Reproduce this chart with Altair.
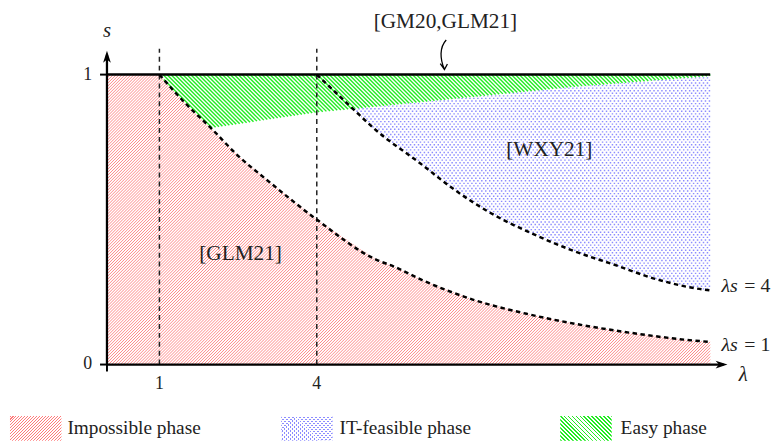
import math
import altair as alt
import pandas as pd

# ---------------- values ----------------
# lower boundary curve (label "λs = 1")
lam_low = [1.0, 1.5, 1.98, 2.5, 3.06, 4.0, 5.13, 5.47, 6.0, 6.96, 8.0, 9.0, 10.0, 11.0, 11.5]
s_low = [1.0, 0.90, 0.816, 0.72, 0.635, 0.50, 0.362, 0.338, 0.292, 0.225, 0.175, 0.138, 0.109, 0.086, 0.078]
# upper boundary curve (label "λs = 4")
lam_up = [4.0, 4.35, 4.70, 5.13, 5.95, 6.64, 7.33, 8.09, 8.91, 9.66, 10.48, 11.36, 11.5]
s_up = [1.0, 0.94, 0.88, 0.808, 0.697, 0.601, 0.521, 0.453, 0.391, 0.345, 0.294, 0.259, 0.256]
# lower edge of the easy region
lam_easy = [1.0, 1.5, 1.98, 4.0, 4.70, 8.9, 11.5]
s_easy = [1.0, 0.90, 0.816, 0.870, 0.882, 0.958, 0.995]

lam_start, lam_end = 0.0, 11.5
s_bottom, s_top = 0.0, 1.0
vlines = [1, 4]
x_ticks = [1, 4]
x_tick_labels = ["1", "4"]
y_ticks = [0, 1]
y_tick_labels = ["0", "1"]
legend_labels = ["Impossible phase", "IT-feasible phase", "Easy phase"]
region_labels = ["[GLM21]", "[WXY21]", "[GM20,GLM21]"]
curve_names = ["λs", "λs"]
curve_values = ["= 4", "= 1"]
axis_titles = ["s", "λ"]

# ---------------- layout / style ----------------
W_PLOT, H_PLOT = 627, 317
X_MAX, Y_MAX = 11.83, 1.082
PX = W_PLOT / X_MAX
PY = H_PLOT / Y_MAX
FONT = "Liberation Serif"
INK = "#222222"
RED, BLUE, GREEN = "#ff7a7a", "#8c8cff", "#22ec22"


def to_px(lam, s):
    return lam * PX, (Y_MAX - s) * PY


def to_data(X, Y):
    return X / PX, Y_MAX - Y / PY


def hatch(poly, kind, step, phase=0.0):
    """Cut a family of parallel lines (spaced `step` px) to a region polygon.
    Returns the pieces in data units so they are drawn through the scales."""
    P = [to_px(l, s) for l, s in poly]
    if kind == "ne":
        f = lambda X, Y: X + Y
    elif kind == "nw":
        f = lambda X, Y: X - Y
    else:
        f = lambda X, Y: Y
    vals = [f(X, Y) for X, Y in P]
    lo, hi = min(vals), max(vals)
    c = math.floor(lo / step) * step + phase
    rows = []
    k = 0
    n = len(P)
    while c <= hi:
        pts = []
        for i in range(n):
            (X0, Y0), (X1, Y1) = P[i], P[(i + 1) % n]
            f0, f1 = vals[i] - c, vals[(i + 1) % n] - c
            if (f0 < 0) != (f1 < 0):
                t = f0 / (f0 - f1)
                pts.append((X0 + t * (X1 - X0), Y0 + t * (Y1 - Y0)))
        pts.sort()
        for j in range(0, len(pts) - 1, 2):
            # draw right-to-left so dash patterns start on a common edge
            (xa, ya), (xb, yb) = pts[j + 1], pts[j]
            la, sa = to_data(xa, ya)
            lb, sb = to_data(xb, yb)
            rows.append({"l1": la, "s1": sa, "l2": lb, "s2": sb, "row": k % 2})
        c += step
        k += 1
    return pd.DataFrame(rows)


def stripes(on, off, w, h, hperiod, duty, direction):
    """Hard-stop gradient hatch, used only for the small legend swatches."""
    k = (w + h) / (w * w + h * h)
    step = hperiod / (w + h)
    stops = []
    i = 0
    while i * step < 1.0:
        a = i * step
        b = min(a + duty * step, 1.0)
        c = min(a + step, 1.0)
        for o, col in ((a, on), (b, on), (b, off), (c, off)):
            stops.append(alt.GradientStop(offset=round(o, 7), color=col))
        i += 1
    if direction == "ne":
        x1, y1, x2, y2 = 0, 0, k * w, k * h
    else:
        x1, y1, x2, y2 = 0, 1, k * w, 1 - k * h
    return alt.LinearGradient(gradient="linear", stops=stops,
                              x1=x1, y1=y1, x2=round(x2, 7), y2=round(y2, 7))


xs = alt.Scale(domain=[0, X_MAX], nice=False, zero=False)
ys = alt.Scale(domain=[0, Y_MAX], nice=False, zero=False)
bx = alt.X("lam:Q", scale=xs, axis=None)
by = alt.Y("s:Q", scale=ys, axis=None)
one = pd.DataFrame({"k": [0]})


def seg_enc():
    return dict(x=alt.X("l1:Q", scale=xs, axis=None), x2="l2:Q",
                y=alt.Y("s1:Q", scale=ys, axis=None), y2="s2:Q")


# ---------------- regions ----------------
red_poly = ([(lam_start, s_bottom), (lam_start, s_top)]
            + list(zip(lam_low, s_low)) + [(lam_end, s_bottom)])
blue_poly = list(zip(lam_up, s_up)) + [(lam_end, s_top)]
green_poly = list(zip(lam_easy, s_easy)) + [(lam_end, s_top)]

red = alt.Chart(hatch(red_poly, "ne", 3.0, 0.5)).mark_rule(
    color=RED, strokeWidth=0.9).encode(**seg_enc())

blue_rows = hatch(blue_poly, "h", 2.6, 1.3)
blue_even = alt.Chart(blue_rows[blue_rows["row"] == 0]).mark_rule(
    color=BLUE, strokeWidth=1.4, strokeDash=[1.5, 2.5]).encode(**seg_enc())
blue_odd = alt.Chart(blue_rows[blue_rows["row"] == 1]).mark_rule(
    color=BLUE, strokeWidth=1.4, strokeDash=[1.5, 2.5], strokeDashOffset=2).encode(**seg_enc())

green_df = pd.DataFrame({"lam": lam_easy, "s": s_easy})
green_bg = alt.Chart(green_df).mark_area(color="white", opacity=1).encode(
    x=bx, y=by, y2=alt.datum(s_top))
green = alt.Chart(hatch(green_poly, "nw", 4.0, 0.5)).mark_rule(
    color=GREEN, strokeWidth=1.4).encode(**seg_enc())

# ---------------- lines ----------------
top_line = alt.Chart(one).mark_rule(color="black", strokeWidth=2.5).encode(
    x=alt.XDatum(lam_start, scale=xs, axis=None), x2=alt.X2Datum(lam_end),
    y=alt.YDatum(s_top, scale=ys, axis=None))

vdash = alt.Chart(pd.DataFrame({"lam": vlines})).mark_rule(
    color="#222222", strokeDash=[5, 4], strokeWidth=1.5
).encode(x=bx, y=alt.YDatum(s_bottom, scale=ys, axis=None), y2=alt.value(-2))

low_line = alt.Chart(pd.DataFrame({"lam": lam_low, "s": s_low})).mark_line(
    color="black", strokeWidth=2.5, strokeDash=[4.5, 3.5], interpolate="monotone"
).encode(x=bx, y=by)
up_line = alt.Chart(pd.DataFrame({"lam": lam_up, "s": s_up})).mark_line(
    color="black", strokeWidth=2.5, strokeDash=[4.5, 3.5], interpolate="monotone"
).encode(x=bx, y=by)

# ---------------- axes (drawn by hand so they can carry arrows) ----------------
x_axis_line = alt.Chart(one).mark_rule(color="black", strokeWidth=2.3).encode(
    x=alt.XDatum(lam_start, scale=xs, axis=None), x2=alt.value(W_PLOT - 4),
    y=alt.YDatum(s_bottom, scale=ys, axis=None))
y_axis_line = alt.Chart(one).mark_rule(color="black", strokeWidth=2.3).encode(
    x=alt.XDatum(lam_start, scale=xs, axis=None),
    y=alt.YDatum(s_bottom, scale=ys, axis=None), y2=alt.value(4))
y_tick_df = pd.DataFrame({"s": y_ticks, "label": y_tick_labels})
y_tick_marks = alt.Chart(y_tick_df).mark_rule(color="black", strokeWidth=2).encode(
    y=by, x=alt.value(-7), x2=alt.value(0))
y_tick_text = alt.Chart(y_tick_df).mark_text(
    font=FONT, fontSize=18, color=INK, align="right", baseline="middle", dx=-15
).encode(y=by, x=alt.value(0), text="label:N")
x_origin_tick = alt.Chart(one).mark_rule(color="black", strokeWidth=2).encode(
    x=alt.XDatum(lam_start, scale=xs, axis=None),
    y=alt.YDatum(s_bottom, scale=ys, axis=None), y2=alt.value(H_PLOT + 7))
x_tick_df = pd.DataFrame({"lam": x_ticks, "label": x_tick_labels})
x_tick_text = alt.Chart(x_tick_df).mark_text(
    font=FONT, fontSize=18, color=INK, align="center", baseline="alphabetic"
).encode(x=bx, y=alt.value(H_PLOT + 25), text="label:N")

# ---------------- decorations ----------------
ARROW_R = "M1,0 L-1,-0.65 L-0.45,0 L-1,0.65 Z"
ARROW_U = "M0,-1 L-0.65,1 L0,0.45 L0.65,1 Z"
CURVE = "M0.12,-1 C-0.35,-0.5 -0.3,0.3 0,0.98 M-0.28,0.6 L0,1 L0.2,0.62"

x_arrow = alt.Chart(one).mark_point(shape=ARROW_R, size=144, filled=True,
                                    color="black", opacity=1).encode(
    x=alt.value(W_PLOT - 6), y=alt.value(H_PLOT))
y_arrow = alt.Chart(one).mark_point(shape=ARROW_U, size=144, filled=True,
                                    color="black", opacity=1).encode(
    x=alt.value(0), y=alt.value(6))
cite_arrow = alt.Chart(one).mark_point(shape=CURVE, size=900, filled=False,
                                       color="black", strokeWidth=1.3, opacity=1).encode(
    x=alt.value(341), y=alt.value(4))


def text(t, x, y, size, align="center", italic=False):
    return alt.Chart(one).mark_text(
        text=t, font=FONT, fontSize=size, color=INK, align=align,
        baseline="alphabetic", fontStyle="italic" if italic else "normal"
    ).encode(x=alt.value(x), y=alt.value(y))


texts = [
    text(region_labels[0], 135, 211, 21.5),
    text(region_labels[1], 447, 106, 21.5),
    text(region_labels[2], 342, -23, 21.5),
    text(curve_names[0], 621, 244, 20, "left", True),
    text(curve_values[0], 644, 244, 20, "left"),
    text(curve_names[1], 621, 303, 20, "left", True),
    text(curve_values[1], 644, 303, 20, "left"),
    text(axis_titles[0], 0, -14, 21, "center", True),
    text(axis_titles[1], 643, 334, 21, "center", True),
    text(legend_labels[0], -40, 387, 19.5, "left"),
    text(legend_labels[1], 235, 387, 19.5, "left"),
    text(legend_labels[2], 519, 387, 19.5, "left"),
]


def swatch(fill, x0, x1):
    return alt.Chart(one).mark_rect(fill=fill).encode(
        x=alt.value(x0), x2=alt.value(x1), y=alt.value(369), y2=alt.value(394))


SW, SH = 52, 25
swatches = [
    swatch(stripes(RED, "#ffffff", SW, SH, 3, 0.36, "ne"), -98, -46),
    swatch(stripes(BLUE, "#ffffff", SW, SH, 4, 0.5, "ne"), 176, 228),
    swatch(stripes("#ffffff", "rgba(255,255,255,0)", SW, SH, 4, 0.5, "nw"), 176, 228),
    swatch(stripes(GREEN, "#ffffff", SW, SH, 4, 0.45, "nw"), 458, 510),
]

chart = alt.layer(
    red, blue_even, blue_odd, green_bg, green, vdash, low_line, up_line, top_line,
    x_axis_line, y_axis_line, y_tick_marks, y_tick_text, x_origin_tick, x_tick_text,
    x_arrow, y_arrow, cite_arrow, *texts, *swatches
).properties(
    width=W_PLOT, height=H_PLOT,
    padding={"left": 100, "top": 41, "right": 47, "bottom": 77},
    autosize=alt.AutoSizeParams(type="none"),
    background="white",
).configure_view(stroke=None)

chart.save("out.html", embed_options={"renderer": "svg", "actions": False})
